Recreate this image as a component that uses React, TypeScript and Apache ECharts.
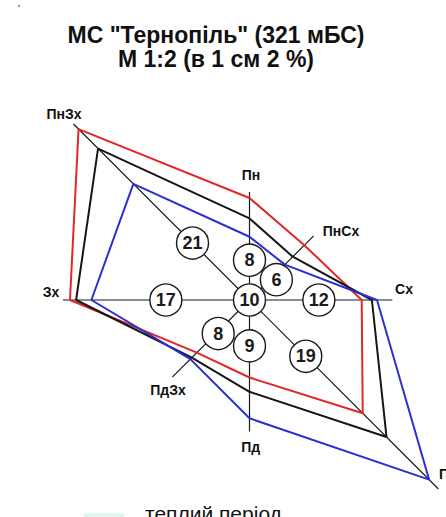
import React, { useEffect, useRef } from "react";
import * as echarts from "echarts";

// ---- data ----
const DIRECTIONS = ["Пн", "ПнСх", "Сх", "ПдСх", "Пд", "ПдЗх", "Зх", "ПнЗх"];
const COLD_PERIOD = [10.0, 7.6, 11.0, 15.7, 7.6, 7.3, 17.6, 23.7];
const YEAR = [8, 6, 12, 19, 9, 8, 17, 21];
const WARM_PERIOD = [6.2, 4.9, 12.5, 24.9, 11.6, 8.2, 15.5, 16.1];
const CALM = 10;
const AXIS_LENGTH = [10.6, 8.9, 14.0, 26.2, 12.9, 10.7, 18.3, 24.4];
const TITLE_LINES = ['МС "Тернопіль" (321 мБС)', "М 1:2 (в 1 см 2 %)"];
const LEGEND_TEXT = "теплий період";

// ---- layout ----
const W = 446;
const H = 517;
const CENTER = [249.5, 300];
const PX_PER_PCT = 10.2;
const R_MAX = 26.5;
const BADGE_R = [3.9, 3.3, 6.8, 7.8, 4.5, 4.5, 8.2, 7.9];
const BADGE_ANGLE = [0, 53, 90, 135, 180, 223, 270, 315];
const LABEL_POS = [
  [251, 175, "center"],
  [341, 231, "center"],
  [404, 289, "center"],
  [439, 474, "left"],
  [250.7, 447, "center"],
  [168, 390, "center"],
  [51, 291.7, "center"],
  [64, 113.5, "center"],
];
const FONT = "'Liberation Sans', Arial, sans-serif";
const COLORS = { cold: "#e3262a", year: "#161616", warm: "#2b2fd0" };

function closedRing(values: number[]) {
  const pts = values.map((v, i) => [v, i * 45]);
  pts.push([values[0], 360]);
  return pts;
}

export default function App() {
  const ref = useRef<HTMLDivElement>(null);
  useEffect(() => {
    if (!ref.current) return;
    const chart = echarts.init(ref.current, null, { renderer: "svg" });
    const axisSeries = DIRECTIONS.map((d, i) => ({
      type: "line",
      name: "axis-" + d,
      coordinateSystem: "polar",
      data: [
        [0, i * 45],
        [AXIS_LENGTH[i], i * 45],
      ],
      symbol: "none",
      silent: true,
      clip: false,
      z: 1,
      lineStyle: { color: "#1a1a1a", width: 1.2 },
    }));
    const ringSeries = [
      { name: "холодний період", data: COLD_PERIOD, color: COLORS.cold },
      { name: "рік", data: YEAR, color: COLORS.year },
      { name: "теплий період", data: WARM_PERIOD, color: COLORS.warm },
    ].map((s) => ({
      type: "line",
      name: s.name,
      coordinateSystem: "polar",
      data: closedRing(s.data),
      symbol: "none",
      silent: true,
      clip: false,
      z: 2,
      lineStyle: { color: s.color, width: 2 },
    }));
    const badgeData = YEAR.map((v, i) => [BADGE_R[i], BADGE_ANGLE[i], v]);
    badgeData.push([0, 0, CALM]);
    const badgeSeries = {
      type: "scatter",
      coordinateSystem: "polar",
      data: badgeData,
      symbol: "circle",
      symbolSize: 32,
      silent: true,
      z: 5,
      itemStyle: { color: "#ffffff", borderColor: "#1a1a1a", borderWidth: 1.4, opacity: 1 },
      label: {
        show: true,
        position: "inside",
        formatter: (p: any) => String(p.value[2]),
        color: "#1a1a1a",
        fontFamily: FONT,
        fontWeight: "bold",
        fontSize: 18,
      },
    };

    const graphics: any[] = [];
    graphics.push({
      type: "circle",
      shape: { cx: 19, cy: 6, r: 0.8 },
      style: { fill: "#555" },
    });
    TITLE_LINES.forEach((t, i) => {
      graphics.push({
        type: "text",
        x: 216,
        y: i === 0 ? 35 : 58.5,
        style: {
          text: t,
          fill: "#111",
          font: `bold 23px ${FONT}`,
          textAlign: "center",
          textVerticalAlign: "middle",
        },
      });
    });
    DIRECTIONS.forEach((d, i) => {
      const [x, y, align] = LABEL_POS[i] as [number, number, string];
      graphics.push({
        type: "text",
        x,
        y,
        style: {
          text: d,
          fill: "#111",
          font: `bold 14px ${FONT}`,
          textAlign: align,
          textVerticalAlign: "middle",
        },
      });
    });
    graphics.push({
      type: "rect",
      shape: { x: 84, y: 513, width: 40, height: 6 },
      style: { fill: "#e4f5ef" },
    });
    graphics.push({
      type: "text",
      x: 145,
      y: 523.5,
      style: {
        text: LEGEND_TEXT,
        fill: "#111",
        font: `21px ${FONT}`,
        textAlign: "left",
        textVerticalAlign: "bottom",
      },
    });

    chart.setOption({
      animation: false,
      backgroundColor: "#ffffff",
      polar: { center: CENTER, radius: R_MAX * PX_PER_PCT },
      angleAxis: {
        type: "value",
        min: 0,
        max: 360,
        startAngle: 90,
        clockwise: true,
        show: false,
        axisLine: { show: false },
        axisTick: { show: false },
        axisLabel: { show: false },
        splitLine: { show: false },
      },
      radiusAxis: {
        type: "value",
        min: 0,
        max: R_MAX,
        show: false,
        axisLine: { show: false },
        axisTick: { show: false },
        axisLabel: { show: false },
        splitLine: { show: false },
      },
      series: [...axisSeries, ...ringSeries, badgeSeries],
      graphic: graphics,
    });
    return () => chart.dispose();
  }, []);
  return (
    <div
      ref={ref}
      style={{ position: "fixed", left: 0, top: 0, width: W, height: H }}
    />
  );
}
